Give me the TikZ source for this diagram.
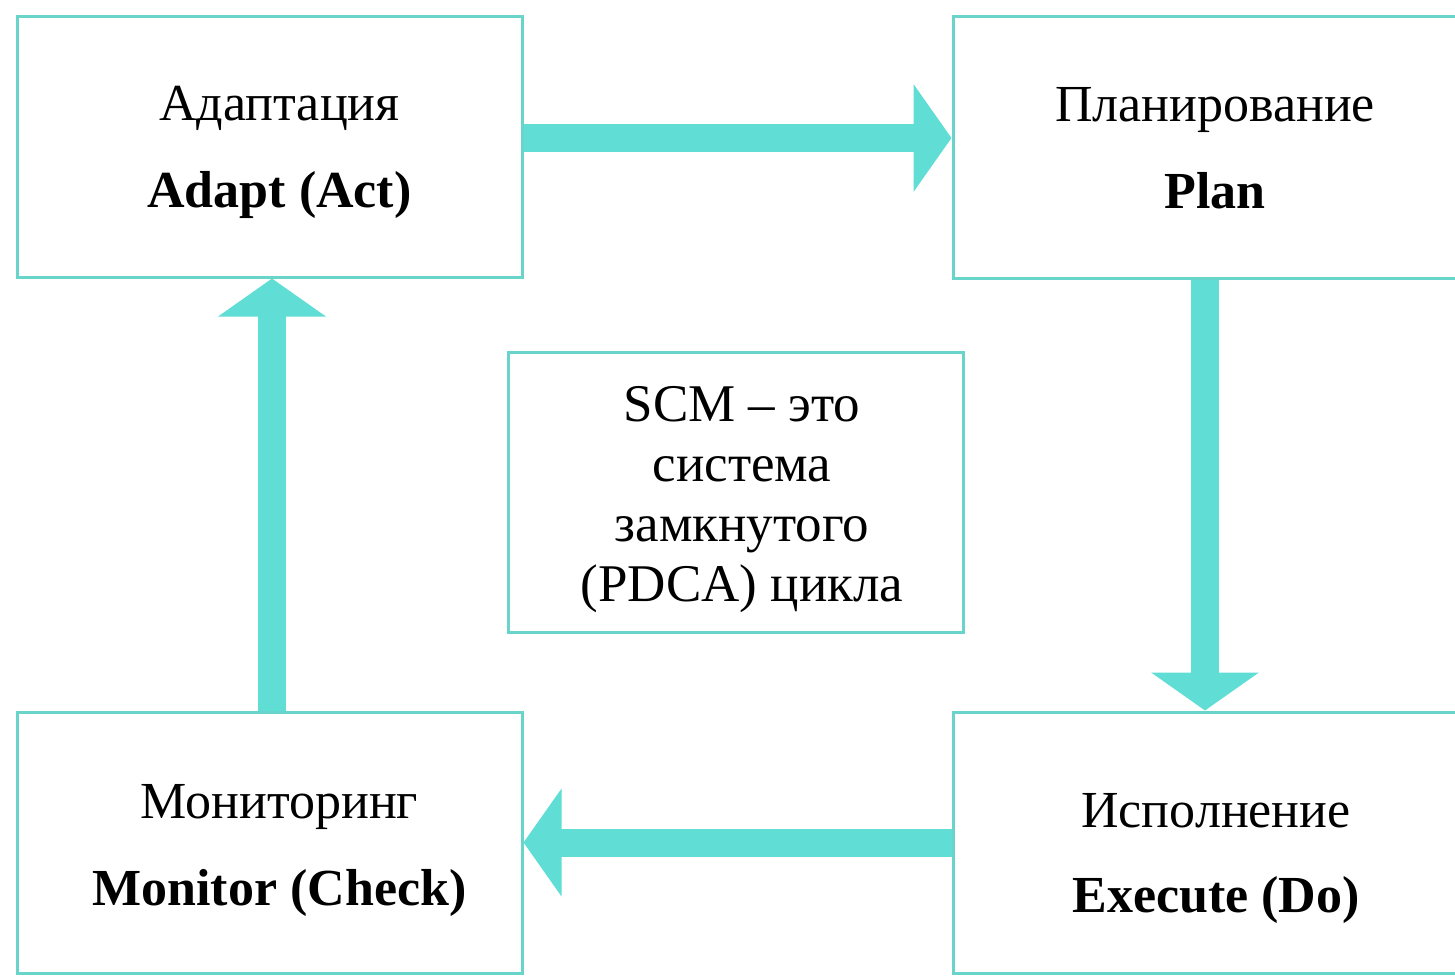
\documentclass[tikz,border=0pt]{standalone}
\usepackage{fontspec}
\setmainfont{Liberation Serif}
\usetikzlibrary{arrows.meta,calc}
\definecolor{turq}{RGB}{96,222,214}
\definecolor{turqline}{RGB}{104,212,202}
\begin{document}
\begin{tikzpicture}[x=0.5pt,y=-0.5pt,
  boxnode/.style={draw=turqline,line width=1.5pt,fill=white,inner sep=0pt},
  label2/.style={align=center,inner sep=0pt,font=\fontsize{26}{43.5}\selectfont},
  bigarrow/.style={draw=turq,line width=14pt,
    -{Triangle[length=19pt,width=53pt]}}]
\useasboundingbox (0,0) rectangle (1455,975);
\clip (0,0) rectangle (1455,975);
\fill[white] (0,0) rectangle (1455,975);
% boxes
\node[boxnode,minimum width=252.5pt,minimum height=130.5pt] (act) at (269.5,146.5) {};
\node[boxnode,minimum width=254.5pt,minimum height=131pt] (plan) at (1207.5,147) {};
\node[boxnode,minimum width=252.5pt,minimum height=130.5pt] (check) at (269.5,842.5) {};
\node[boxnode,minimum width=254.5pt,minimum height=130.5pt] (do) at (1207.5,842.5) {};
\node[boxnode,minimum width=227.5pt,minimum height=140pt] (scm) at (735.5,492) {};
% texts
\node[label2] (actt) at (279.5,152) {Адаптация\\\textbf{Adapt (Act)}};
\node[label2] (plant) at (1215,148) {Планирование\\\textbf{Plan}};
\node[label2] (checkt) at (279.5,850) {Мониторинг\\\textbf{Monitor (Check)}};
\node[label2,font=\fontsize{26}{42.5}\selectfont] (dot) at (1216,858) {Исполнение\\\textbf{Execute (Do)}};
\node[align=center,inner sep=0pt,font=\fontsize{26.5}{30}\selectfont] (scmt) at (742,500)
  {SCM -- это\\система\\замкнутого\\(PDCA) цикла};
% arrows
\draw[bigarrow] ($(act.east)+(0,-8.5)$) -- ($(plan.west)+(0,-9)$);
\draw[bigarrow] ($(plan.south)+(-2.5,0)$) -- ($(do.north)+(-2.5,0)$);
\draw[bigarrow] (do.west) -- (check.east);
\draw[bigarrow] ($(check.north)+(2.5,0)$) -- ($(act.south)+(2.5,0)$);
\end{tikzpicture}
\end{document}
